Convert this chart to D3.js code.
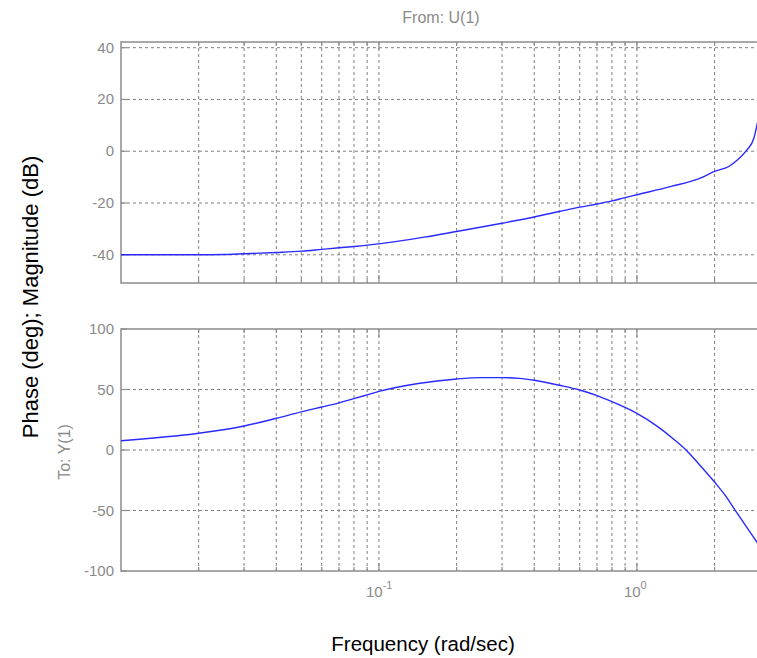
<!DOCTYPE html>
<html>
<head>
<meta charset="utf-8">
<script src="https://cdn.jsdelivr.net/npm/d3@7"></script>
<style>
  body { margin: 0; background: #fff; }
  svg { display: block; font-family: "Liberation Sans", Arial, sans-serif; }
  .grid line { stroke: #808080; stroke-width: 1; stroke-dasharray: 3,3; }
  .frame { fill: none; stroke: #8c8c8c; stroke-width: 1.5; }
  .tick-lbl { fill: #8a8a8a; font-size: 15px; }
  .curve { fill: none; stroke: #2a2aff; stroke-width: 1.4; }
</style>
</head>
<body>
<script>
// frequencies (rad/sec) and readings
var magFreq = [0.01, 0.02, 0.025, 0.03, 0.04, 0.05, 0.06, 0.07, 0.08, 0.1, 0.15, 0.2, 0.3, 0.4, 0.5, 0.6, 0.7, 0.8, 0.9, 1.0, 1.36, 1.76, 2.0, 2.27, 2.45, 2.67, 2.84, 2.96]
var magDb   = [-40, -40, -39.9, -39.6, -39.1, -38.6, -37.9, -37.3, -36.8, -35.8, -33.2, -31, -27.8, -25.4, -23.3, -21.6, -20.4, -19.2, -17.9, -16.8, -13.6, -10.4, -7.8, -5.9, -3.4, 0.5, 5, 13]

var phFreq = [0.01, 0.02, 0.03, 0.04, 0.05, 0.06, 0.07, 0.08, 0.09, 0.1, 0.142, 0.2, 0.25, 0.3, 0.35, 0.4, 0.5, 0.6, 0.7, 0.8, 0.9, 1.0, 1.2, 1.4, 1.55, 1.72, 2.0, 2.2, 2.39, 2.61, 2.84, 2.96]
var phDeg  = [7.7, 13.8, 19.8, 26.2, 31.5, 35.5, 39, 42.4, 45.6, 48.5, 55, 58.7, 59.8, 59.8, 59.2, 57.6, 53.5, 49.6, 45, 40, 35.2, 30.3, 19.5, 8.3, 0, -10.5, -26.5, -37.5, -49, -61, -72.5, -78]

var magTicks = [-40, -20, 0, 20, 40]
var phTicks = [-100, -50, 0, 50, 100]
var decadeTicks = [0.1, 1]
var decadeLabels = ["-1", "0"]

var W = 757, H = 658
var svg = d3.select("body").append("svg")
    .attr("width", W)
    .attr("height", H)

var x = d3.scaleLog().domain([0.01, 3]).range([121, 760])
var yMag = d3.scaleLinear().domain([-50.9, 42.2]).range([283, 42])
var yPh = d3.scaleLinear().domain([-100, 100]).range([571, 329])

var gridF = x.ticks().filter(function(f) { return f > 0.01 && f < 3 })

function panel(y, yTicks, fr, vals, id) {
    var g = svg.append("g")
    var top = y.range()[1], bot = y.range()[0]
    var left = x.range()[0], right = x.range()[1]

    svg.append("clipPath").attr("id", id)
      .append("rect")
        .attr("x", left).attr("y", top)
        .attr("width", right - left).attr("height", bot - top)

    // dashed grid
    var grid = g.append("g").attr("class", "grid")
    grid.selectAll(".v").data(gridF).enter().append("line")
        .attr("x1", d => x(d)).attr("x2", d => x(d))
        .attr("y1", top).attr("y2", bot)
    grid.selectAll(".h").data(yTicks.filter(d => y(d) > top + 1 && y(d) < bot - 1)).enter().append("line")
        .attr("x1", left).attr("x2", right)
        .attr("y1", d => y(d)).attr("y2", d => y(d))

    // ticks on the frame
    var tk = g.append("g").attr("stroke", "#8c8c8c").attr("stroke-width", 1.2)
    gridF.forEach(function(f) {
        var len = decadeTicks.indexOf(f) >= 0 ? 8 : 4
        tk.append("line").attr("x1", x(f)).attr("x2", x(f)).attr("y1", top).attr("y2", top + len)
        tk.append("line").attr("x1", x(f)).attr("x2", x(f)).attr("y1", bot).attr("y2", bot - len)
    })
    yTicks.forEach(function(v) {
        tk.append("line").attr("x1", left).attr("x2", left + 6).attr("y1", y(v)).attr("y2", y(v))
    })

    g.append("rect").attr("class", "frame")
        .attr("x", left).attr("y", top)
        .attr("width", right - left).attr("height", bot - top)

    g.selectAll(".yl").data(yTicks).enter().append("text")
        .attr("class", "tick-lbl")
        .attr("x", left - 7)
        .attr("y", d => y(d) + 5)
        .attr("text-anchor", "end")
        .text(d => d)

    var line = d3.line()
        .x(function(d, i) { return x(fr[i]) })
        .y(d => y(d))
        .curve(d3.curveMonotoneX)

    g.append("path")
        .datum(vals)
        .attr("class", "curve")
        .attr("clip-path", "url(#" + id + ")")
        .attr("d", line)
}

panel(yMag, magTicks, magFreq, magDb, "clipMag")
panel(yPh, phTicks, phFreq, phDeg, "clipPh")

// decade labels under the phase panel
decadeTicks.forEach(function(f, i) {
    var t = svg.append("text")
        .attr("class", "tick-lbl")
        .attr("x", x(f) - 13)
        .attr("y", 597)
    t.append("tspan").text("10")
    t.append("tspan").attr("dy", -8).attr("font-size", 11).text(decadeLabels[i])
})

svg.append("text")
    .attr("x", 441).attr("y", 23)
    .attr("text-anchor", "middle")
    .attr("fill", "#8a8a8a")
    .attr("font-size", 16)
    .text("From: U(1)")

svg.append("text")
    .attr("transform", "translate(70,452) rotate(-90)")
    .attr("text-anchor", "middle")
    .attr("fill", "#8a8a8a")
    .attr("font-size", 16)
    .text("To: Y(1)")

svg.append("text")
    .attr("transform", "translate(38,297) rotate(-90)")
    .attr("text-anchor", "middle")
    .attr("fill", "#000")
    .attr("font-size", 22)
    .text("Phase (deg); Magnitude (dB)")

svg.append("text")
    .attr("x", 423).attr("y", 651)
    .attr("text-anchor", "middle")
    .attr("fill", "#000")
    .attr("font-size", 20.5)
    .text("Frequency (rad/sec)")
</script>
</body>
</html>
